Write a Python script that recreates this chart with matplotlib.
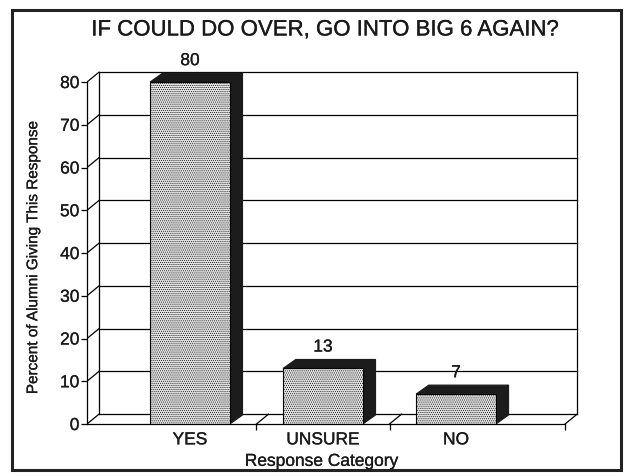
import matplotlib
matplotlib.use("Agg")
import matplotlib.pyplot as plt
import matplotlib.patheffects as pe
from matplotlib.patches import Polygon, Rectangle

categories = ["YES", "UNSURE", "NO"]
percents = [80, 13, 7]
y_ticks = [0, 10, 20, 30, 40, 50, 60, 70, 80]

plt.rcParams["font.family"] = ["Liberation Sans", "DejaVu Sans"]
plt.rcParams["hatch.color"] = "#c6c6c6"
plt.rcParams["hatch.linewidth"] = 0.4
ink = "#1a1a1a"

# pseudo 3d geometry (data units)
x_left = -0.774
x_right = 2.82
dx = 0.09
dy = 2.3
half = 0.3
bar_dx = 0.095
bar_dy = 2.1

fig = plt.figure(figsize=(6.25, 4.76), dpi=100)
ax = fig.add_axes([0.1392, 0.10924, 0.7888, 0.7647])
ax.set_xlim(x_left, 2.932)
ax.set_ylim(0, 85.15)

# frame round the whole figure
fig.patches.append(Rectangle((12 / 625, 6 / 476), 609 / 625, 460 / 476,
                             transform=fig.transFigure, fill=False,
                             edgecolor="#222222", lw=2.2))

# back wall, gridlines and the little diagonals on the left wall
for v in y_ticks:
    ax.plot([x_left + dx, x_right + dx], [v + dy, v + dy],
            color="black", lw=0.9, zorder=1)
    ax.plot([x_left, x_left + dx], [v, v + dy], color="black", lw=0.9,
            zorder=1)
ax.plot([x_left + dx, x_left + dx], [dy, y_ticks[-1] + dy], color="black",
        lw=0.9, zorder=1)
ax.plot([x_right + dx, x_right + dx], [dy, y_ticks[-1] + dy], color="black",
        lw=0.9, zorder=1)

# floor separators
for xs in [0.5, 1.5, x_right]:
    ax.plot([xs, xs + dx], [0, dy], color="black", lw=0.9, zorder=1)

texts = []

# bars
for i, v in enumerate(percents):
    x0 = i - half
    x1 = i + half
    side = Polygon([(x1, 0), (x1 + bar_dx, bar_dy), (x1 + bar_dx, v + bar_dy),
                    (x1, v)], closed=True, facecolor="#1c1c1c",
                   edgecolor="#1c1c1c", lw=0.8, zorder=3)
    top = Polygon([(x0, v), (x0 + bar_dx, v + bar_dy),
                   (x1 + bar_dx, v + bar_dy), (x1, v)], closed=True,
                  facecolor="#1c1c1c", edgecolor="#1c1c1c", lw=0.8, zorder=3)
    ax.add_patch(side)
    ax.add_patch(top)
    ax.bar(i, v, width=2 * half, color="#e0e0e0", edgecolor="black",
           lw=0.8, hatch="........", zorder=4)
    texts.append(ax.text(i, v + 5, str(v), ha="center", va="center",
                         fontsize=12.5, color=ink))

# axes
for name in ["top", "right"]:
    ax.spines[name].set_visible(False)
ax.spines["left"].set_bounds(0, y_ticks[-1])
ax.spines["bottom"].set_bounds(x_left, x_right)
ax.spines["left"].set_linewidth(0.9)
ax.spines["bottom"].set_linewidth(0.9)

ax.set_yticks(y_ticks)
ax.tick_params(axis="y", length=4, width=0.9, pad=1.5, labelsize=12.5,
               labelcolor=ink)
ax.set_xticks(range(len(categories)), categories)
ax.set_xticks([0.5, 1.5, x_right], minor=True)
ax.tick_params(axis="x", which="major", length=0, pad=6, labelsize=12.5,
               labelcolor=ink)
ax.tick_params(axis="x", which="minor", length=4, width=0.9)

xl = ax.set_xlabel("Response Category", fontsize=12.5, labelpad=2,
                   color=ink)
ax.xaxis.set_label_coords(0.476, -0.082)
yl = ax.set_ylabel("Percent of Alumni Giving This Response", fontsize=11,
                   color=ink)
ax.yaxis.set_label_coords(-0.095, 0.456)

title = fig.text(0.52, 0.937, "IF COULD DO OVER, GO INTO BIG 6 AGAIN?",
                 ha="center", va="center", fontsize=16, color=ink)

# scanned print looks a touch heavier than a clean regular weight
texts += [xl, yl, title]
texts += ax.get_xticklabels() + ax.get_yticklabels()
for t in texts:
    t.set_path_effects([pe.withStroke(linewidth=0.2, foreground=ink)])

fig.savefig("out.png", dpi=100)
